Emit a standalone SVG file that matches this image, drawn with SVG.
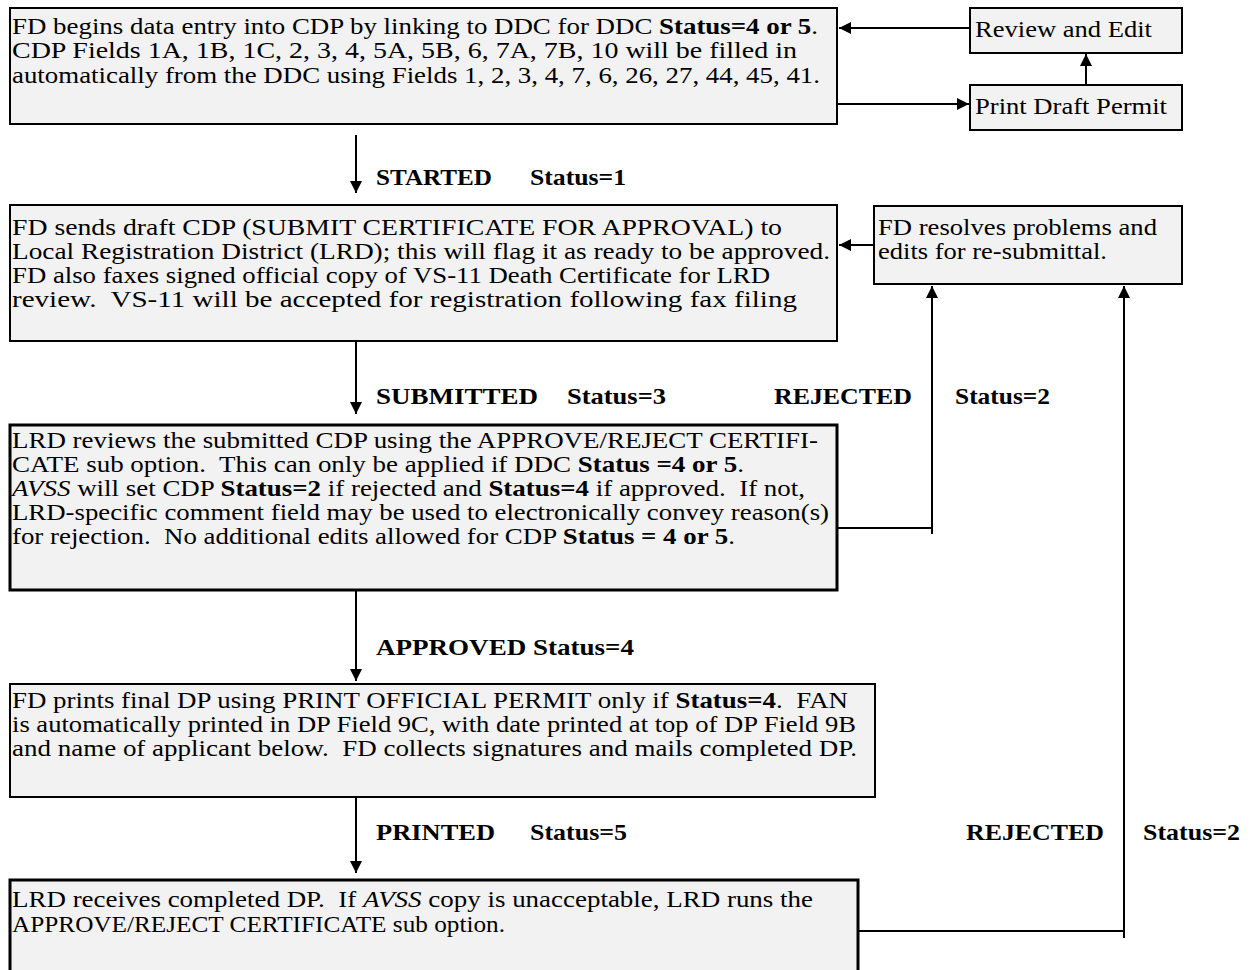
<svg xmlns="http://www.w3.org/2000/svg" width="1254" height="970" viewBox="0 0 1254 970">
<defs>
<style>
.box{fill:#f2f2f2;stroke:#000;stroke-width:2}
.thick{stroke-width:3}
.t{font-family:"Liberation Serif","Times New Roman",serif;font-size:23px;fill:#000}
.lbl{font-family:"Liberation Serif","Times New Roman",serif;font-size:24px;font-weight:bold;fill:#000}
.b{font-weight:bold}
.i{font-style:italic}
.ln{fill:none;stroke:#000;stroke-width:2}
</style>
<marker id="ah" viewBox="0 0 12 12" refX="12" refY="6" markerWidth="12" markerHeight="12" markerUnits="userSpaceOnUse" orient="auto">
<path d="M0,0 L12,6 L0,12 z" fill="#000"/>
</marker>
</defs>
<rect width="1254" height="970" fill="#fff"/>

<g id="connectors">
<line class="ln" x1="970" y1="28" x2="839" y2="28" marker-end="url(#ah)"/>
<line class="ln" x1="837" y1="104" x2="969" y2="104" marker-end="url(#ah)"/>
<line class="ln" x1="1086" y1="85" x2="1086" y2="54" marker-end="url(#ah)"/>
<line class="ln" x1="356" y1="135" x2="356" y2="193" marker-end="url(#ah)"/>
<line class="ln" x1="874" y1="245" x2="839" y2="245" marker-end="url(#ah)"/>
<line class="ln" x1="356" y1="342" x2="356" y2="414" marker-end="url(#ah)"/>
<polyline class="ln" points="837,528 932,528"/>
<line class="ln" x1="932" y1="534" x2="932" y2="286" marker-end="url(#ah)"/>
<line class="ln" x1="356" y1="588" x2="356" y2="681" marker-end="url(#ah)"/>
<line class="ln" x1="356" y1="797" x2="356" y2="873" marker-end="url(#ah)"/>
<polyline class="ln" points="858,931 1124,931"/>
<line class="ln" x1="1124" y1="938" x2="1124" y2="286" marker-end="url(#ah)"/>
<text class="lbl" x="376" y="185" textLength="116" lengthAdjust="spacingAndGlyphs">STARTED</text>
<text class="lbl" x="530" y="185" textLength="96" lengthAdjust="spacingAndGlyphs">Status=1</text>
<text class="lbl" x="376" y="404" textLength="162" lengthAdjust="spacingAndGlyphs">SUBMITTED</text>
<text class="lbl" x="567" y="404" textLength="99" lengthAdjust="spacingAndGlyphs">Status=3</text>
<text class="lbl" x="774" y="404" textLength="138" lengthAdjust="spacingAndGlyphs">REJECTED</text>
<text class="lbl" x="955" y="404" textLength="95" lengthAdjust="spacingAndGlyphs">Status=2</text>
<text class="lbl" x="376" y="655" textLength="258" lengthAdjust="spacingAndGlyphs">APPROVED Status=4</text>
<text class="lbl" x="376" y="840" textLength="119" lengthAdjust="spacingAndGlyphs">PRINTED</text>
<text class="lbl" x="530" y="840" textLength="97" lengthAdjust="spacingAndGlyphs">Status=5</text>
<text class="lbl" x="966" y="840" textLength="138" lengthAdjust="spacingAndGlyphs">REJECTED</text>
<text class="lbl" x="1143" y="840" textLength="97" lengthAdjust="spacingAndGlyphs">Status=2</text>
</g>

<g id="node-begin">
<rect class="box" x="10" y="8" width="827" height="116"/>
<text class="t" x="12" y="34" textLength="806" lengthAdjust="spacingAndGlyphs">FD begins data entry into CDP by linking to DDC for DDC <tspan class="b">Status=4 or 5</tspan>.</text>
<text class="t" x="12" y="58" textLength="785" lengthAdjust="spacingAndGlyphs">CDP Fields 1A, 1B, 1C, 2, 3, 4, 5A, 5B, 6, 7A, 7B, 10 will be filled in</text>
<text class="t" x="12" y="83" textLength="808" lengthAdjust="spacingAndGlyphs">automatically from the DDC using Fields 1, 2, 3, 4, 7, 6, 26, 27, 44, 45, 41.</text>
</g>

<g id="node-review">
<rect class="box" x="970" y="8" width="212" height="45"/>
<text class="t" x="975" y="37" textLength="177" lengthAdjust="spacingAndGlyphs">Review and Edit</text>
</g>

<g id="node-print-draft">
<rect class="box" x="970" y="85" width="212" height="45"/>
<text class="t" x="975" y="114" textLength="192" lengthAdjust="spacingAndGlyphs">Print Draft Permit</text>
</g>

<g id="node-send">
<rect class="box" x="10" y="205" width="827" height="136"/>
<text class="t" x="12" y="235" textLength="770" lengthAdjust="spacingAndGlyphs">FD sends draft CDP (SUBMIT CERTIFICATE FOR APPROVAL) to</text>
<text class="t" x="12" y="259" textLength="818" lengthAdjust="spacingAndGlyphs">Local Registration District (LRD); this will flag it as ready to be approved.</text>
<text class="t" x="12" y="283" textLength="758" lengthAdjust="spacingAndGlyphs">FD also faxes signed official copy of VS-11 Death Certificate for LRD</text>
<text class="t" x="12" y="307" textLength="785" lengthAdjust="spacingAndGlyphs" xml:space="preserve">review.  VS-11 will be accepted for registration following fax filing</text>
</g>

<g id="node-resolve">
<rect class="box" x="874" y="206" width="308" height="78"/>
<text class="t" x="878" y="235" textLength="279" lengthAdjust="spacingAndGlyphs">FD resolves problems and</text>
<text class="t" x="878" y="259" textLength="229" lengthAdjust="spacingAndGlyphs">edits for re-submittal.</text>
</g>

<g id="node-review-lrd">
<rect class="box thick" x="10" y="425" width="827" height="165"/>
<text class="t" x="12" y="448" textLength="806" lengthAdjust="spacingAndGlyphs">LRD reviews the submitted CDP using the APPROVE/REJECT CERTIFI-</text>
<text class="t" x="12" y="472" textLength="732" lengthAdjust="spacingAndGlyphs" xml:space="preserve">CATE sub option.  This can only be applied if DDC <tspan class="b">Status =4 or 5</tspan>.</text>
<text class="t" x="12" y="496" textLength="793" lengthAdjust="spacingAndGlyphs" xml:space="preserve"><tspan class="i">AVSS</tspan> will set CDP <tspan class="b">Status=2</tspan> if rejected and <tspan class="b">Status=4</tspan> if approved.  If not,</text>
<text class="t" x="12" y="520" textLength="817" lengthAdjust="spacingAndGlyphs">LRD-specific comment field may be used to electronically convey reason(s)</text>
<text class="t" x="12" y="544" textLength="723" lengthAdjust="spacingAndGlyphs" xml:space="preserve">for rejection.  No additional edits allowed for CDP <tspan class="b">Status = 4 or 5</tspan>.</text>
</g>

<g id="node-print-final">
<rect class="box" x="10" y="684" width="865" height="113"/>
<text class="t" x="12" y="708" textLength="836" lengthAdjust="spacingAndGlyphs" xml:space="preserve">FD prints final DP using PRINT OFFICIAL PERMIT only if <tspan class="b">Status=4</tspan>.  FAN</text>
<text class="t" x="12" y="732" textLength="844" lengthAdjust="spacingAndGlyphs">is automatically printed in DP Field 9C, with date printed at top of DP Field 9B</text>
<text class="t" x="12" y="756" textLength="845" lengthAdjust="spacingAndGlyphs" xml:space="preserve">and name of applicant below.  FD collects signatures and mails completed DP.</text>
</g>

<g id="node-receive">
<rect class="box thick" x="10" y="880" width="848" height="110"/>
<text class="t" x="12" y="907" textLength="801" lengthAdjust="spacingAndGlyphs" xml:space="preserve">LRD receives completed DP.  If <tspan class="i">AVSS</tspan> copy is unacceptable, LRD runs the</text>
<text class="t" x="12" y="932" textLength="493" lengthAdjust="spacingAndGlyphs">APPROVE/REJECT CERTIFICATE sub option.</text>
</g>
</svg>
